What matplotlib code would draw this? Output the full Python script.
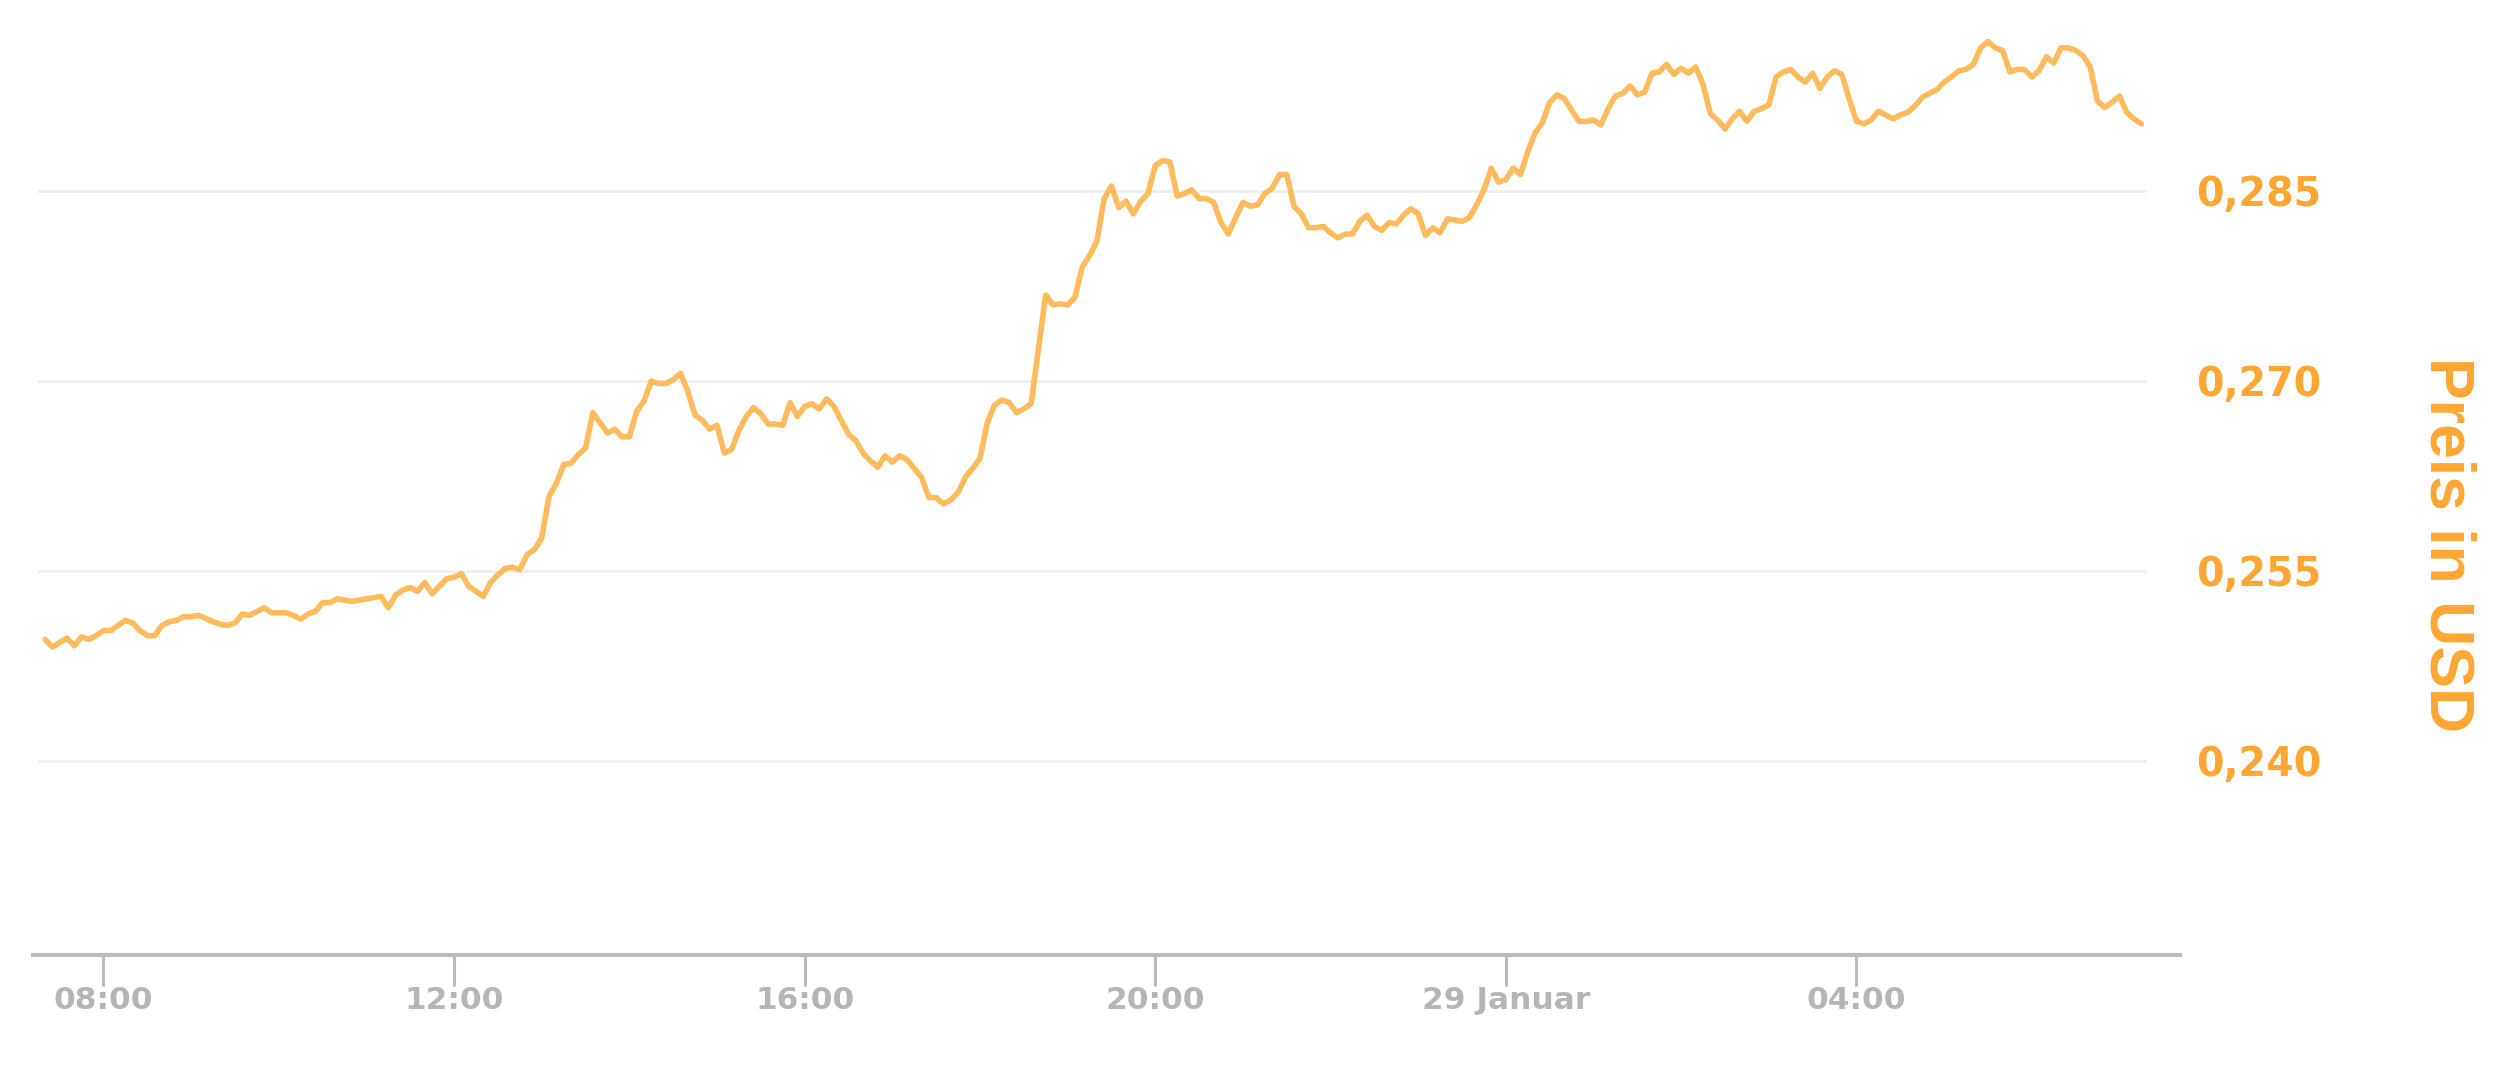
import matplotlib.pyplot as plt

plt.rcParams['font.family'] = 'DejaVu Sans'

# minutes after 07:20 on 28 January (5-minute data, vertices)
minutes = [0, 5, 15, 20, 25, 30, 35, 40, 45, 55, 60, 65, 70, 75, 80, 85, 90, 95, 100, 105,
           115, 120, 125, 130, 135, 140, 145, 150, 155, 165, 170, 175, 180, 185, 190, 195, 200,
           210, 220, 230, 235, 240, 245, 250, 255, 260, 265, 270, 275, 280, 285, 290, 295, 300,
           305, 310, 315, 320, 325, 330, 335, 340, 345, 350, 355, 360, 365, 370, 375, 380, 385,
           390, 395, 400, 405, 410, 415, 420, 425, 430, 435, 440, 445, 450, 455, 460, 465, 470,
           475, 480, 485, 490, 495, 500, 505, 510, 515, 520, 525, 530, 535, 540, 545, 550, 555,
           560, 565, 570, 575, 580, 585, 590, 595, 600, 605, 610, 615, 620, 625, 630, 635, 640,
           645, 650, 655, 660, 665, 670, 675, 680, 685, 690, 695, 700, 705, 710, 715, 720, 725,
           730, 735, 740, 745, 750, 755, 760, 765, 770, 775, 780, 785, 790, 795, 800, 805, 810,
           815, 820, 825, 830, 835, 840, 845, 850, 855, 860, 865, 870, 875, 880, 885, 890, 895,
           900, 905, 910, 915, 920, 925, 930, 935, 940, 945, 950, 955, 960, 965, 970, 975, 980,
           985, 990, 995, 1000, 1005, 1010, 1015, 1020, 1025, 1030, 1035, 1040, 1045, 1050,
           1055, 1060, 1065, 1070, 1075, 1080, 1085, 1090, 1095, 1100, 1105, 1110, 1115, 1120,
           1125, 1130, 1135, 1140, 1145, 1150, 1155, 1160, 1165, 1170, 1175, 1180, 1185, 1190,
           1195, 1200, 1205, 1210, 1215, 1220, 1225, 1230, 1235, 1240, 1245, 1250, 1255, 1260,
           1265, 1270, 1275, 1280, 1285, 1290, 1295, 1300, 1305, 1310, 1315, 1320, 1325, 1330,
           1335, 1340, 1345, 1350, 1355, 1360, 1365, 1370, 1375, 1380, 1385, 1390, 1395, 1400,
           1405, 1410, 1415, 1420, 1425, 1430, 1435]

prices = [0.2496, 0.2490, 0.2497, 0.2491, 0.2498, 0.2496, 0.2499, 0.2503, 0.2503, 0.2511,
          0.2509, 0.2503, 0.2499, 0.2499, 0.2507, 0.2510, 0.2511, 0.2514, 0.2514, 0.2515,
          0.2510, 0.2508, 0.2507, 0.2509, 0.2516, 0.2515, 0.2518, 0.2521, 0.2517, 0.2517,
          0.2515, 0.2512, 0.2516, 0.2518, 0.2525, 0.2525, 0.2528, 0.2526, 0.2528, 0.2530,
          0.2521, 0.2531, 0.2535, 0.2537, 0.2534, 0.2541, 0.2532, 0.2538, 0.2544, 0.2545,
          0.2548, 0.2538, 0.2534, 0.2530, 0.2541, 0.2547, 0.2552, 0.2553, 0.2551, 0.2563,
          0.2567, 0.2576, 0.2609, 0.2619, 0.2634, 0.2635, 0.2642, 0.2647, 0.2675, 0.2667,
          0.2659, 0.2662, 0.2656, 0.2656, 0.2676, 0.2684, 0.2700, 0.2698, 0.2698, 0.2701,
          0.2706, 0.2692, 0.2673, 0.2669, 0.2662, 0.2665, 0.2643, 0.2646, 0.2661, 0.2672,
          0.2679, 0.2674, 0.2666, 0.2666, 0.2665, 0.2683, 0.2672, 0.2680, 0.2682, 0.2678,
          0.2686, 0.2680, 0.2669, 0.2658, 0.2653, 0.2643, 0.2637, 0.2632, 0.2641, 0.2636,
          0.2641, 0.2638, 0.2631, 0.2624, 0.2608, 0.2608, 0.2603, 0.2606, 0.2612, 0.2624,
          0.2631, 0.2639, 0.2667, 0.2681, 0.2685, 0.2683, 0.2675, 0.2678, 0.2682, 0.2725,
          0.2768, 0.2760, 0.2761, 0.2760, 0.2766, 0.2790, 0.2799, 0.2810, 0.2844, 0.2854,
          0.2837, 0.2842, 0.2832, 0.2842, 0.2848, 0.2870, 0.2874, 0.2873, 0.2846, 0.2848,
          0.2851, 0.2844, 0.2844, 0.2841, 0.2825, 0.2816, 0.2829, 0.2841, 0.2838, 0.2839,
          0.2848, 0.2852, 0.2863, 0.2863, 0.2838, 0.2832, 0.2821, 0.2821, 0.2822, 0.2817,
          0.2813, 0.2816, 0.2816, 0.2826, 0.2831, 0.2822, 0.2819, 0.2825, 0.2824, 0.2831,
          0.2836, 0.2832, 0.2815, 0.2821, 0.2817, 0.2828, 0.2827, 0.2826, 0.2829, 0.2839,
          0.2851, 0.2868, 0.2857, 0.2859, 0.2868, 0.2863, 0.2881, 0.2896, 0.2904, 0.2920,
          0.2926, 0.2923, 0.2914, 0.2905, 0.2905, 0.2906, 0.2902, 0.2915, 0.2925, 0.2927,
          0.2933, 0.2926, 0.2928, 0.2943, 0.2944, 0.2950, 0.2942, 0.2947, 0.2943, 0.2948,
          0.2934, 0.2911, 0.2906, 0.2899, 0.2907, 0.2913, 0.2905, 0.2913, 0.2915, 0.2918,
          0.2940, 0.2944, 0.2946, 0.2940, 0.2936, 0.2943, 0.2931, 0.2940, 0.2945, 0.2942,
          0.2923, 0.2905, 0.2903, 0.2906, 0.2913, 0.2910, 0.2907, 0.2910, 0.2912, 0.2917,
          0.2924, 0.2927, 0.2930, 0.2936, 0.2940, 0.2945, 0.2946, 0.2950, 0.2963, 0.2968,
          0.2963, 0.2961, 0.2944, 0.2946, 0.2946, 0.2940, 0.2945, 0.2956, 0.2951, 0.2963,
          0.2963, 0.2961, 0.2957, 0.2948, 0.2921, 0.2916, 0.2920, 0.2925, 0.2912, 0.2907,
          0.2903]

xtick_hours = [8, 12, 16, 20, 24, 28]
xtick_labels = ["08:00", "12:00", "16:00", "20:00", "29 Januar", "04:00"]
ytick_values = [0.240, 0.255, 0.270, 0.285]
ytick_labels = ["0,240", "0,255", "0,270", "0,285"]

LINE = "#FFBA5C"
ORANGE = "#FFA632"
GREY = "#BBBBBB"

hours = [7 + 20 / 60 + m / 60 for m in minutes]

fig = plt.figure(figsize=(25, 10.91), dpi=100)
ax = fig.add_axes([38 / 2500, 1 - 955 / 1091, 2109 / 2500, 935 / 1091])

ax.plot(hours, prices, color=LINE, lw=4.0, solid_joinstyle="round",
        solid_capstyle="round", zorder=3)

ax.set_xlim(7.2533, 7.2533 + 2109 / 87.65)
ax.set_ylim(0.224684, 0.2985)

for s in ax.spines.values():
    s.set_visible(False)
ax.axhline(0.224684, xmin=-0.0024, xmax=1.0157, color=GREY, lw=2.9,
           clip_on=False, zorder=4)

ax.set_xticks(xtick_hours, xtick_labels)
ax.tick_params(axis="x", length=22, width=2.2, color=GREY, pad=0,
               labelsize=22.5, labelcolor="#B5B5B5")
for t in ax.get_xticklabels():
    t.set_fontweight("bold")

ax.set_yticks(ytick_values, ytick_labels)
ax.yaxis.tick_right()
ax.tick_params(axis="y", length=0, pad=80.6, labelsize=28.5, labelcolor=ORANGE)
for tk in ax.yaxis.get_major_ticks():
    tk.label2.set_ha("center")
    tk.label2.set_fontweight("bold")

ax.grid(axis="y", color="#EFEFEF", lw=2)
ax.set_axisbelow(True)

ax.yaxis.set_label_position("right")
ax.set_ylabel("Preis in USD", rotation=270, fontsize=45, fontweight="bold",
              color=ORANGE, family="Liberation Sans", va="center", ha="center")
ax.yaxis.set_label_coords((2447 - 38) / 2109, (955 - 545) / 935)

plt.savefig("out.png", dpi=100)
